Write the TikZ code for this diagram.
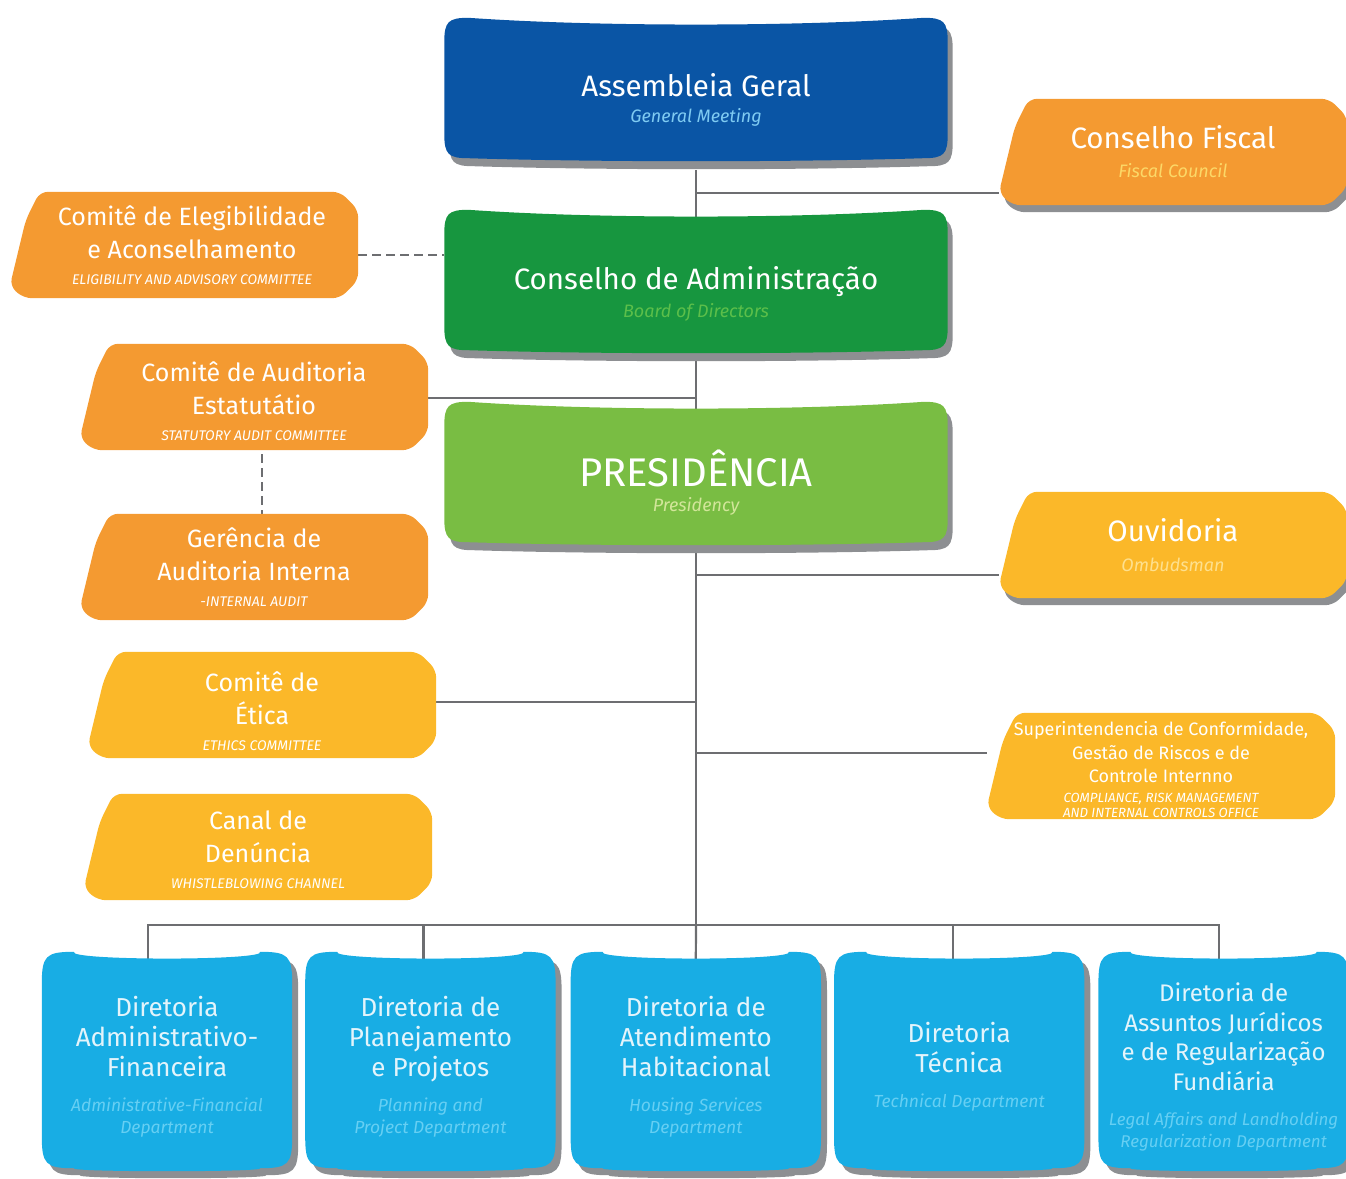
\documentclass[tikz,border=0pt]{standalone}
\usepackage{fontspec}
\setmainfont{Fira Sans}
\usetikzlibrary{calc,positioning,backgrounds}

\definecolor{agblue}{HTML}{0A55A5}
\definecolor{agsub}{HTML}{7FCBF2}
\definecolor{cagreen}{HTML}{17963F}
\definecolor{casub}{HTML}{5CBF4A}
\definecolor{presgreen}{HTML}{79BD43}
\definecolor{pressub}{HTML}{D2E69A}
\definecolor{orangebox}{HTML}{F49A31}
\definecolor{orangesub}{HTML}{FCD867}
\definecolor{yellowbox}{HTML}{FBB829}
\definecolor{yellowsub}{HTML}{FEE08E}
\definecolor{dirblue}{HTML}{18ADE4}
\definecolor{dirtext}{HTML}{E3F4FB}
\definecolor{dirsub}{HTML}{66CFF3}
\definecolor{linegray}{HTML}{6D6E71}
\definecolor{shadowgray}{HTML}{8D8F92}

\newcommand\bigtitle{\fontsize{29.5}{30}\selectfont}
\newcommand\subtitle{\fontsize{18}{20}\selectfont\itshape}
\newcommand\sidetitle{\fontsize{25}{33}\selectfont}
\newcommand\sidecaps{\fontsize{14}{14}\selectfont\itshape}
\newcommand\dirtitle{\fontsize{26}{30}\selectfont}
\newcommand\dirsubtitle{\fontsize{17.5}{22}\selectfont\itshape}

% outline of the rounded boxes, #2 = corner radius
\newcommand\wavepath[2]{($(#1.north west)+(0,#2)$) .. controls ($(#1.north west)+(0,4)$) and ($(#1.north west)+(4,0)$) .. ($(#1.north west)+(#2,0)$) .. controls ($(#1.north)+(-100,9)$) and ($(#1.north)+(100,9)$) .. ($(#1.north east)+(-#2,0)$) .. controls ($(#1.north east)+(-4,0)$) and ($(#1.north east)+(0,4)$) .. ($(#1.north east)+(0,#2)$) -- ($(#1.south east)+(0,-#2)$) .. controls ($(#1.south east)+(0,-4)$) and ($(#1.south east)+(-4,0)$) .. ($(#1.south east)+(-#2,0)$) .. controls ($(#1.south)+(100,4)$) and ($(#1.south)+(-100,4)$) .. ($(#1.south west)+(#2,0)$) .. controls ($(#1.south west)+(4,0)$) and ($(#1.south west)+(0,-4)$) .. ($(#1.south west)+(0,-#2)$) -- cycle}
% outline of the slanted side boxes
\newcommand\sidepath[1]{($(#1.north west)+(30,0)$) -- ($(#1.north east)+(-18,0)$) -- ($(#1.north east)+(0,18)$) -- ($(#1.south east)+(0,-18)$) -- ($(#1.south east)+(-18,0)$) -- ($(#1.south west)+(14,0)$) -- ($(#1.south west)+(0,-12)$) -- ($(#1.north west)+(16,28)$) -- cycle}

\begin{document}
\begin{tikzpicture}[x=1pt, y=-1pt,
  mainbox/.style={minimum width=503pt, minimum height=140pt, align=center, text=white, font=\bigtitle},
  sidebox/.style={minimum width=348pt, minimum height=106pt, align=center, text=white, font=\sidetitle},
  dirbox/.style={minimum width=250pt, minimum height=216pt, align=center, text=dirtext, font=\dirtitle},
  link/.style={draw=linegray, line width=2.2pt},
  dashlink/.style={link, dash pattern=on 9pt off 5pt}]
\useasboundingbox (0,0) rectangle (1346,1178);

% central column
\node[mainbox] (ag) at (696,100) {Assembleia Geral\\[-4pt]{\subtitle\color{agsub}General Meeting}};
\node[mainbox] (ca) at (696,294) {Conselho de Administração\\[-2pt]{\subtitle\color{casub}Board of Directors}};
\node[mainbox, font=\fontsize{40}{25}\selectfont] (pres) at (696,483) {PRESIDÊNCIA\\{\subtitle\color{pressub}Presidency}};

% right side
\node[sidebox, font=\bigtitle] (cf) at (1173,152) {Conselho Fiscal\\[-1pt]{\subtitle\color{orangesub}Fiscal Council}};
\node[sidebox, font=\bigtitle] (ouv) at (1173,545) {Ouvidoria\\[0pt]{\subtitle\color{yellowsub}Ombudsman}};
\node[sidebox, font=\fontsize{18}{23.5}\selectfont] (sup) at (1161,770)
  {Superintendencia de Conformidade,\\Gestão de Riscos e de\\Controle Internno\\[-3.5pt]
   {\sidecaps\fontsize{13.3}{14}\selectfont COMPLIANCE, RISK MANAGEMENT}\\[-8.5pt]{\sidecaps\fontsize{13.3}{14}\selectfont AND INTERNAL CONTROLS OFFICE}};

% left side
\node[sidebox] (ele) at (192,245) {Comitê de Elegibilidade\\e Aconselhamento\\[-7pt]{\sidecaps ELIGIBILITY AND ADVISORY COMMITTEE}};
\node[sidebox] (aud) at (254,401) {Comitê de Auditoria\\Estatutátio\\[-7pt]{\sidecaps STATUTORY AUDIT COMMITTEE}};
\node[sidebox] (ger) at (254,567) {Gerência de\\Auditoria Interna\\[-7pt]{\sidecaps -INTERNAL AUDIT}};
\node[sidebox] (eti) at (262,711) {Comitê de\\Ética\\[-7pt]{\sidecaps ETHICS COMMITTEE}};
\node[sidebox] (den) at (258,850) {Canal de\\Denúncia\\[-7pt]{\sidecaps WHISTLEBLOWING CHANNEL}};

% directorates
\node[dirbox] (d1) at (167,1067) {Diretoria\\Administrativo-\\Financeira\\[5pt]{\dirsubtitle\color{dirsub}Administrative-Financial}\\[-8pt]{\dirsubtitle\color{dirsub}Department}};
\node[dirbox, right=13pt of d1] (d2) {Diretoria de\\Planejamento\\e Projetos\\[5pt]{\dirsubtitle\color{dirsub}Planning and}\\[-8pt]{\dirsubtitle\color{dirsub}Project Department}};
\node[dirbox, right=15pt of d2] (d3) {Diretoria de\\Atendimento\\Habitacional\\[5pt]{\dirsubtitle\color{dirsub}Housing Services}\\[-8pt]{\dirsubtitle\color{dirsub}Department}};
\node[dirbox, right=13pt of d3] (d4) {Diretoria\\Técnica\\[5pt]{\dirsubtitle\color{dirsub}Technical Department}};
\node[dirbox, right=14pt of d4, font=\fontsize{24}{29.5}\selectfont] (d5) {Diretoria de\\Assuntos Jurídicos\\e de Regularização\\Fundiária\\[6pt]{\dirsubtitle\fontsize{17}{22}\selectfont\color{dirsub}Legal Affairs and Landholding}\\[-7.5pt]{\dirsubtitle\fontsize{17}{22}\selectfont\color{dirsub}Regularization Department}};

\coordinate (hub) at (696,925);
\coordinate (eleport) at ([yshift=-10pt]ele.east);
\coordinate (cfport) at ([yshift=-41pt]cf.west);
\coordinate (audport) at ([yshift=3pt]aud.east);
\coordinate (ouvport) at ([yshift=-30pt]ouv.west);
\coordinate (etiport) at ([yshift=9pt]eti.east);
\coordinate (support) at ([yshift=17pt]sup.west);

\begin{scope}[on background layer]
  % connectors
  \draw[link] (ag.south) -- (hub);
  \draw[link] (ag.south) |- (cfport);
  \draw[dashlink] ([xshift=-8pt]eleport) -- (eleport -| ca.west);
  \draw[link] (audport) -- (audport -| hub);
  \draw[dashlink] ([xshift=8pt]aud.south) -- ([xshift=8pt]ger.north);
  \draw[link] (ouvport) -- (ouvport -| hub);
  \draw[link] (etiport) -- (etiport -| hub);
  \draw[link] (support) -- (support -| hub);
  \draw[link] ([xshift=-19pt]d1.north) |- (hub) -| ([xshift=-5pt]d5.north);
  \draw[link] ([xshift=-7pt]d2.north) -- ([xshift=-7pt]d2.north |- hub);
  \draw[link] (hub) -- (d3.north);
  \draw[link] ([xshift=-6pt]d4.north) -- ([xshift=-6pt]d4.north |- hub);

  % boxes
  \fill[shadowgray, transform canvas={xshift=5pt, yshift=4pt}] \wavepath{ag}{24};
  \fill[agblue, transform canvas={yshift=12pt}] \wavepath{ag}{24};
  \fill[shadowgray, transform canvas={xshift=5pt, yshift=6pt}] \wavepath{ca}{24};
  \fill[cagreen, transform canvas={yshift=14pt}] \wavepath{ca}{24};
  \fill[shadowgray, transform canvas={xshift=5pt, yshift=3pt}] \wavepath{pres}{24};
  \fill[presgreen, transform canvas={yshift=11pt}] \wavepath{pres}{24};

  \fill[shadowgray, rounded corners=8, transform canvas={xshift=4pt, yshift=-7pt}] \sidepath{cf};
  \fill[orangebox, rounded corners=8] \sidepath{cf};
  \fill[shadowgray, rounded corners=8, transform canvas={xshift=4pt, yshift=-7pt}] \sidepath{ouv};
  \fill[yellowbox, rounded corners=8] \sidepath{ouv};
  \fill[yellowbox, rounded corners=8, transform canvas={yshift=4pt}] \sidepath{sup};
  \fill[orangebox, rounded corners=8, transform canvas={xshift=-8pt}] \sidepath{ele};
  \fill[orangebox, rounded corners=8, transform canvas={yshift=4pt}] \sidepath{aud};
  \fill[orangebox, rounded corners=8] \sidepath{ger};
  \fill[yellowbox, rounded corners=8, transform canvas={yshift=6pt}] \sidepath{eti};
  \fill[yellowbox, rounded corners=8, transform canvas={yshift=3pt}] \sidepath{den};

  \foreach \n in {d1,d2,d3,d4,d5} {
    \fill[shadowgray, transform canvas={xshift=6pt, yshift=0pt}] \wavepath{\n}{32};
    \fill[dirblue, transform canvas={yshift=7pt}] \wavepath{\n}{32};
  }
\end{scope}
\end{tikzpicture}
\end{document}
